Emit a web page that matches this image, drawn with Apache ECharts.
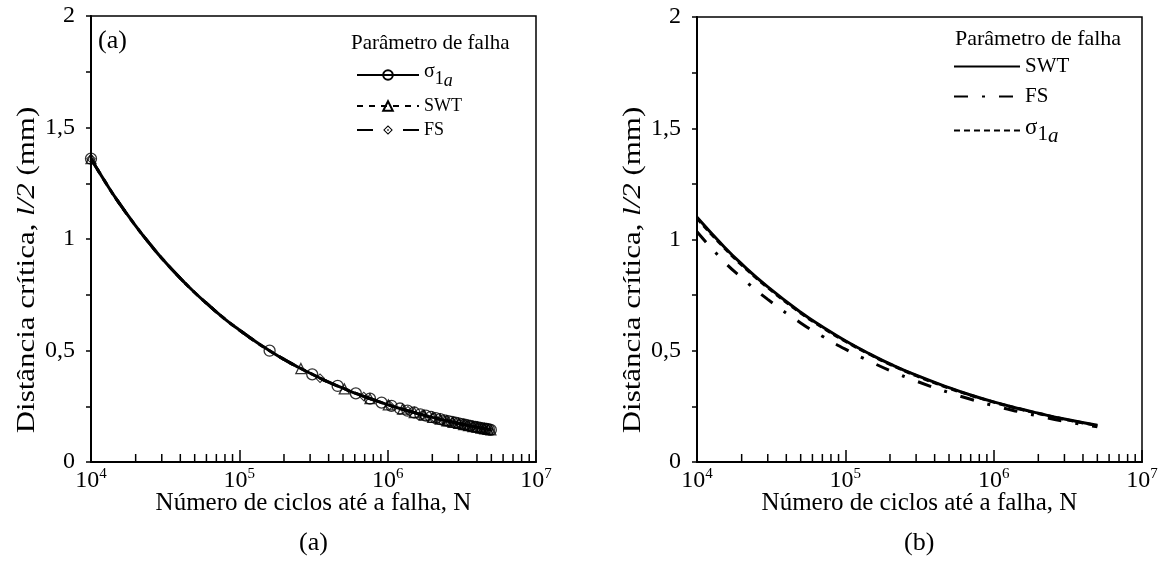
<!DOCTYPE html>
<html>
<head>
<meta charset="utf-8">
<script src="https://cdn.jsdelivr.net/npm/echarts@6/dist/echarts.min.js"></script>
<style>
  html, body { margin: 0; padding: 0; background: #fff; }
  #chart { width: 1163px; height: 566px; }
</style>
</head>
<body>
<div id="chart"></div>
<script>
// ---- dados (a) ----
const nCurveA = [1e4, 1.25e4, 1.5e4, 2e4, 2.5e4, 3e4, 4e4, 5e4, 6e4, 8e4, 1e5, 1.3e5, 1.6e5, 2e5, 2.5e5, 3.2e5, 4e5, 5e5, 6.3e5, 8e5, 1e6, 1.3e6, 1.6e6, 2e6, 2.5e6, 3.2e6, 4e6, 5e6];
const lCurveA = [1.36, 1.255, 1.174, 1.059, 0.977, 0.914, 0.824, 0.760, 0.712, 0.641, 0.592, 0.538, 0.499, 0.460, 0.425, 0.389, 0.358, 0.331, 0.304, 0.279, 0.257, 0.234, 0.217, 0.200, 0.185, 0.169, 0.156, 0.144];

const nSigPtsA = [1e4, 1.6e5, 3.1e5, 4.6e5, 6.1e5, 7.6e5, 9.1e5, 1.06e6, 1.21e6, 1.36e6, 1.51e6, 1.66e6, 1.81e6, 1.96e6, 2.11e6, 2.26e6, 2.41e6, 2.56e6, 2.71e6, 2.86e6, 3.01e6, 3.16e6, 3.31e6, 3.46e6, 3.61e6, 3.76e6, 3.91e6, 4.06e6, 4.21e6, 4.36e6, 4.51e6, 4.66e6, 4.81e6, 4.96e6];
const lSigPtsA = [1.36, 0.499, 0.393, 0.341, 0.308, 0.284, 0.266, 0.252, 0.240, 0.230, 0.222, 0.214, 0.208, 0.202, 0.197, 0.192, 0.187, 0.183, 0.180, 0.176, 0.173, 0.170, 0.167, 0.164, 0.162, 0.159, 0.157, 0.155, 0.153, 0.151, 0.149, 0.148, 0.146, 0.144];

const nSwtPtsA = [1e4, 2.6e5, 5.1e5, 7.6e5, 1.01e6, 1.26e6, 1.51e6, 1.76e6, 2.01e6, 2.26e6, 2.51e6, 2.76e6, 3.01e6, 3.26e6, 3.51e6, 3.76e6, 4.01e6, 4.26e6, 4.51e6, 4.76e6, 4.96e6];
const lSwtPtsA = [1.36, 0.419, 0.328, 0.284, 0.256, 0.237, 0.222, 0.210, 0.200, 0.192, 0.185, 0.178, 0.173, 0.168, 0.163, 0.159, 0.156, 0.152, 0.149, 0.146, 0.144];

const nFsPtsA = [1e4, 3.5e5, 6.9e5, 1.03e6, 1.37e6, 1.71e6, 2.05e6, 2.39e6, 2.73e6, 3.07e6, 3.41e6, 3.75e6, 4.09e6, 4.43e6, 4.77e6];
const lFsPtsA = [1.36, 0.376, 0.294, 0.255, 0.230, 0.212, 0.199, 0.188, 0.179, 0.172, 0.165, 0.160, 0.155, 0.150, 0.146];

// ---- dados (b) ----
const nCurveB = [1e4, 1.5e4, 2e4, 3e4, 5e4, 7e4, 1e5, 1.5e5, 2e5, 3e5, 5e5, 7e5, 1e6, 1.5e6, 2e6, 3e6, 5e6];
const lSwtB = [1.100, 0.972, 0.890, 0.787, 0.673, 0.608, 0.545, 0.482, 0.441, 0.390, 0.334, 0.301, 0.270, 0.239, 0.219, 0.193, 0.165];
const lFsB = [1.035, 0.905, 0.828, 0.731, 0.625, 0.565, 0.507, 0.449, 0.411, 0.364, 0.312, 0.282, 0.253, 0.225, 0.207, 0.183, 0.158];
const lSigB = [1.095, 0.968, 0.886, 0.784, 0.670, 0.605, 0.543, 0.480, 0.439, 0.388, 0.332, 0.300, 0.269, 0.238, 0.218, 0.192, 0.164];

// ---- eixos ----
const minorTicks = [2e4, 3e4, 4e4, 5e4, 6e4, 7e4, 8e4, 9e4, 2e5, 3e5, 4e5, 5e5, 6e5, 7e5, 8e5, 9e5, 2e6, 3e6, 4e6, 5e6, 6e6, 7e6, 8e6, 9e6];
const yTickLabels = ['0', '0,5', '1', '1,5', '2'];

const FONT = 'Liberation Serif';
const pair = (xs, ys) => xs.map((x, i) => [x, ys[i]]);

const diamondDot = 'path://M0,-10 L10,0 L0,10 L-10,0 Z M0,-7 L-7,0 L0,7 L7,0 Z M0,-2.2 L2.2,0 L0,2.2 L-2.2,0 Z';
const hollow = { color: 'rgba(0,0,0,0)', borderColor: '#000', borderWidth: 1.3 };
const noMark = { color: 'rgba(0,0,0,0)', borderWidth: 0 };

function xAxisFor(gi) {
  return {
    type: 'log', logBase: 10, min: 1e4, max: 1e7, gridIndex: gi,
    name: 'Número de ciclos até a falha, N',
    nameLocation: 'middle', nameGap: 29, nameMoveOverlap: false,
    nameTextStyle: { fontFamily: FONT, fontSize: 25, color: '#000' },
    axisLine: { lineStyle: { color: '#000', width: 2 } },
    axisTick: { inside: true, length: 12, lineStyle: { color: '#000', width: 1.5 } },
    splitLine: { show: false },
    axisLabel: {
      margin: 5,
      formatter: v => '{b|10}{s|' + Math.round(Math.log10(v)) + '}',
      rich: {
        b: { fontFamily: FONT, fontSize: 24, color: '#000', lineHeight: 26, verticalAlign: 'bottom' },
        s: { fontFamily: FONT, fontSize: 15, color: '#000', lineHeight: 26, verticalAlign: 'top' }
      }
    }
  };
}

function yAxisFor(gi) {
  return {
    type: 'value', min: 0, max: 2, interval: 0.25, gridIndex: gi,
    axisLine: { lineStyle: { color: '#000', width: 2 } },
    axisTick: { inside: false, length: 5, lineStyle: { color: '#000', width: 1.5 } },
    splitLine: { show: false },
    axisLabel: {
      margin: 16, fontFamily: FONT, fontSize: 24, color: '#000',
      formatter: v => (Math.abs(v * 2 - Math.round(v * 2)) < 1e-9) ? yTickLabels[Math.round(v * 2)] : ''
    }
  };
}

// titulo do eixo y, esticado na vertical como no original
function yTitle(x, y) {
  return {
    type: 'text', x: x, y: y, rotation: Math.PI / 2, scaleX: 1.19,
    style: {
      text: '{n|Distância crítica, }{i|l/2}{n| (mm)}',
      align: 'center', verticalAlign: 'middle',
      rich: {
        n: { fontFamily: FONT, fontSize: 26, fill: '#000' },
        i: { fontFamily: FONT, fontSize: 26, fill: '#000', fontStyle: 'italic' }
      }
    }
  };
}

function minorTickSeries(gi) {
  return {
    type: 'custom', name: 'minor' + gi, xAxisIndex: gi, yAxisIndex: gi, silent: true, z: 5,
    data: minorTicks.map(v => [v, 0]),
    renderItem: (params, api) => {
      const p = api.coord([api.value(0), 0]);
      return { type: 'line', shape: { x1: p[0], y1: p[1], x2: p[0], y2: p[1] - 8 }, style: { stroke: '#000', lineWidth: 1.5 } };
    }
  };
}

function sigmaRich(fs) {
  return {
    g: { fontFamily: FONT, fontSize: fs + 2, color: '#000', lineHeight: fs + 12, verticalAlign: 'top', padding: [2, 0, 0, 0] },
    one: { fontFamily: FONT, fontSize: fs, color: '#000', lineHeight: fs + 12, verticalAlign: 'middle', padding: [8, 0, 0, 0] },
    it: { fontFamily: FONT, fontSize: fs, color: '#000', lineHeight: fs + 12, verticalAlign: 'bottom', fontStyle: 'italic' },
    t: { fontFamily: FONT, fontSize: fs, color: '#000' }
  };
}

function legendItem(name, left, top, w, fs) {
  return {
    data: [name], left: left, top: top, orient: 'vertical',
    itemWidth: w, itemHeight: 12, itemGap: 0, padding: 0,
    selectedMode: false,
    formatter: n => n.trim() === 'σ1a' ? '{g|σ}{one|1}{it|a}' : '{t|' + n.trim() + '}',
    textStyle: { rich: sigmaRich(fs) }
  };
}

const chart = echarts.init(document.getElementById('chart'), null, { renderer: 'canvas' });

chart.setOption({
  animation: false,
  backgroundColor: '#fff',
  grid: [
    { left: 91, top: 16, width: 445, height: 446, show: true, borderColor: '#000', borderWidth: 1.5, containLabel: false },
    { left: 697, top: 17, width: 445, height: 445, show: true, borderColor: '#000', borderWidth: 1.5, containLabel: false }
  ],
  xAxis: [xAxisFor(0), xAxisFor(1)],
  yAxis: [yAxisFor(0), yAxisFor(1)],
  legend: [
    legendItem('σ1a', 356, 60, 62, 18),
    legendItem('SWT', 356, 97, 62, 18),
    legendItem('FS', 356, 121, 62, 18),
    legendItem('SWT ', 953, 56, 66, 21),
    legendItem('FS ', 953, 86, 66, 21),
    legendItem('σ1a ', 953, 114, 66, 21)
  ],
  graphic: [
    yTitle(27, 270),
    yTitle(633, 270),
    { type: 'text', left: 98, top: 28, style: { text: '(a)', font: '26px "Liberation Serif"', fill: '#000' } },
    { type: 'text', left: 351, top: 33, style: { text: 'Parâmetro de falha', font: '21px "Liberation Serif"', fill: '#000' } },
    { type: 'text', left: 955, top: 28, style: { text: 'Parâmetro de falha', font: '22px "Liberation Serif"', fill: '#000' } },
    { type: 'text', left: 299, top: 530, style: { text: '(a)', font: '26px "Liberation Serif"', fill: '#000' } },
    { type: 'text', left: 904, top: 530, style: { text: '(b)', font: '26px "Liberation Serif"', fill: '#000' } }
  ],
  series: [
    // (a)
    { name: 'FS', type: 'line', xAxisIndex: 0, yAxisIndex: 0, data: pair(nCurveA, lCurveA), smooth: true,
      showSymbol: false, symbol: diamondDot, symbolSize: 10, itemStyle: { color: '#000' },
      lineStyle: { color: '#000', width: 3, type: [16, 30] } },
    { name: 'SWT', type: 'line', xAxisIndex: 0, yAxisIndex: 0, data: pair(nCurveA, lCurveA), smooth: true,
      showSymbol: false, symbol: 'triangle', symbolSize: 10, itemStyle: hollow,
      lineStyle: { color: '#000', width: 3, type: [6, 6] } },
    { name: 'σ1a', type: 'line', xAxisIndex: 0, yAxisIndex: 0, data: pair(nCurveA, lCurveA), smooth: true,
      showSymbol: false, symbol: 'circle', symbolSize: 11, itemStyle: hollow,
      lineStyle: { color: '#000', width: 3 } },
    { name: 'fsPts', type: 'scatter', xAxisIndex: 0, yAxisIndex: 0, data: pair(nFsPtsA, lFsPtsA),
      symbol: diamondDot, symbolSize: 10, itemStyle: { color: '#000' }, z: 3 },
    { name: 'swtPts', type: 'scatter', xAxisIndex: 0, yAxisIndex: 0, data: pair(nSwtPtsA, lSwtPtsA),
      symbol: 'triangle', symbolSize: 10, itemStyle: hollow, z: 3 },
    { name: 'sigPts', type: 'scatter', xAxisIndex: 0, yAxisIndex: 0, data: pair(nSigPtsA, lSigPtsA),
      symbol: 'circle', symbolSize: 11, itemStyle: hollow, z: 3 },
    minorTickSeries(0),
    // (b)
    { name: 'σ1a ', type: 'line', xAxisIndex: 1, yAxisIndex: 1, data: pair(nCurveB, lSigB), smooth: true,
      showSymbol: false, symbol: 'circle', itemStyle: noMark, lineStyle: { color: '#000', width: 3, type: [6, 4] } },
    { name: 'FS ', type: 'line', xAxisIndex: 1, yAxisIndex: 1, data: pair(nCurveB, lFsB), smooth: true,
      showSymbol: false, symbol: 'circle', itemStyle: noMark, lineStyle: { color: '#000', width: 3, type: [14, 14, 3, 14] } },
    { name: 'SWT ', type: 'line', xAxisIndex: 1, yAxisIndex: 1, data: pair(nCurveB, lSwtB), smooth: true,
      showSymbol: false, symbol: 'circle', itemStyle: noMark, lineStyle: { color: '#000', width: 3 } },
    minorTickSeries(1)
  ]
});
</script>
</body>
</html>
